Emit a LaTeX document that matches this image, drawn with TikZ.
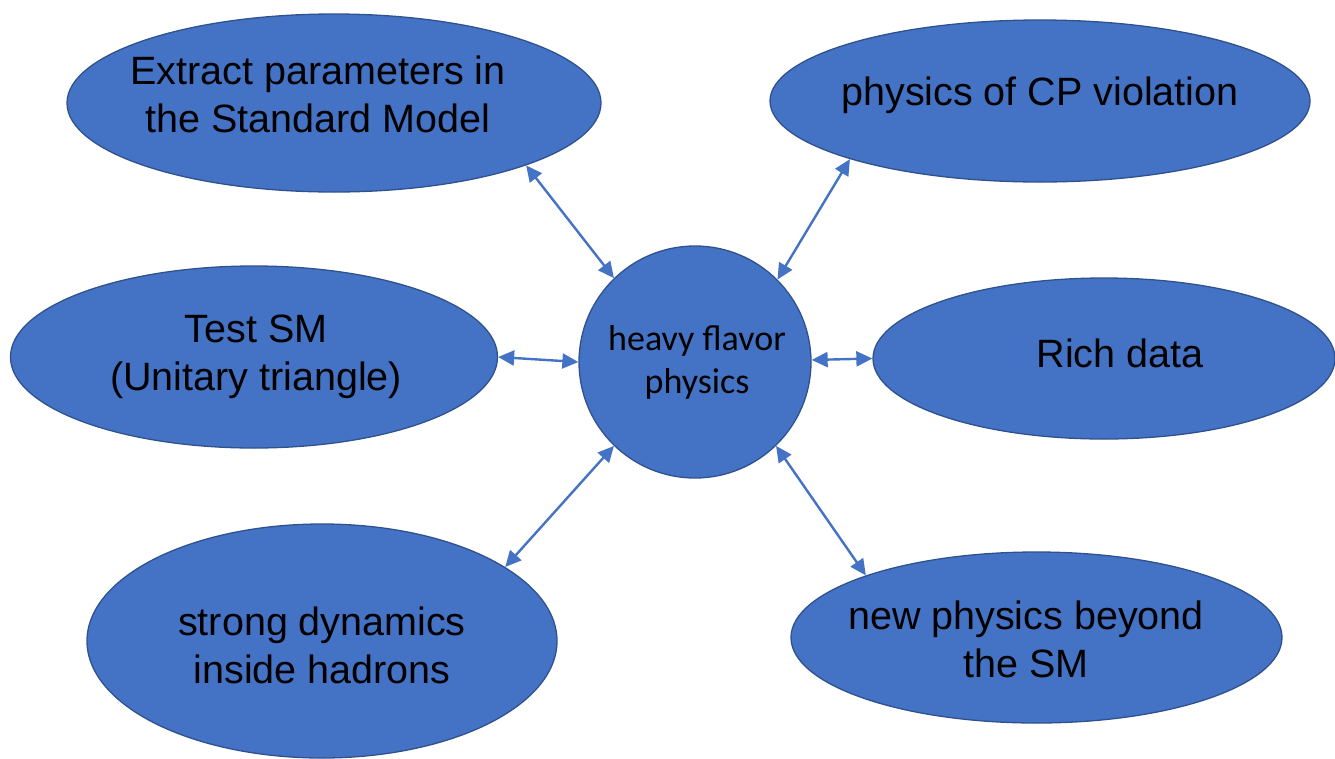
\documentclass[tikz,border=0pt]{standalone}
\usepackage{fontspec}
\setmainfont{Liberation Sans}
\newfontfamily\carlito{Carlito}
\usetikzlibrary{shapes.geometric,arrows.meta}
\definecolor{office}{HTML}{4472C4}
\definecolor{officeedge}{HTML}{2F528F}
\tikzset{
  bubble/.style={ellipse, draw=officeedge, fill=office, line width=1.3pt, inner sep=0pt},
  hub/.style={circle, draw=officeedge, fill=office, line width=1.3pt, inner sep=0pt, minimum size=232pt},
  lbl/.style={align=center, inner sep=0pt, text=black, font=\fontsize{39.5}{48}\selectfont},
  hublbl/.style={align=center, inner sep=0pt, text=black, font=\carlito\fontsize{36}{43}\selectfont},
  link/.style={draw=office, line width=2.4pt, {Triangle[length=16pt,width=15pt]}-{Triangle[length=16pt,width=15pt]}}
}
\begin{document}
\begin{tikzpicture}[x=1pt,y=-1pt]
\useasboundingbox (0,0) rectangle (1335,758);
% bubbles
\node[bubble, minimum width=534pt, minimum height=178pt] (tl) at (334,103) {};
\node[bubble, minimum width=540pt, minimum height=162pt] (tr) at (1040,101) {};
\node[bubble, minimum width=487pt, minimum height=182pt] (ml) at (254,357) {};
\node[bubble, minimum width=462pt, minimum height=161pt] (mr) at (1104,358.5) {};
\node[bubble, minimum width=470pt, minimum height=234pt] (bl) at (322,641) {};
\node[bubble, minimum width=491pt, minimum height=171pt] (br) at (1036.5,637.5) {};
\node[hub] (c) at (695,362) {};
% labels
\node[lbl] (tlt) at (318,99) {\strut Extract parameters in\\\strut the Standard Model};
\node[lbl] (trt) at (1040,95.4) {\strut physics of CP violation};
\node[lbl] (mlt) at (256,356.4) {\strut Test SM\\\strut (Unitary triangle)};
\node[lbl] (mrt) at (1120,357.4) {\strut Rich data};
\node[lbl] (blt) at (322,650) {\strut strong dynamics\\\strut inside hadrons};
\node[lbl] (brt) at (1026,644) {\strut new physics beyond\\\strut the SM};
\node[hublbl] (ct) at (697,363) {\strut heavy flavor\\\strut physics};
% connectors
\draw[link] (tl.-18.7) -- (c.134.3);
\draw[link] (tr.197.1) -- (c.45.7);
\draw[link] (ml.0.5) -- (c.180.5);
\draw[link] (c.1.5) -- (mr.180);
\draw[link] (bl.22.3) -- (c.226);
\draw[link] (br.160.2) -- (c.314);
\end{tikzpicture}
\end{document}
